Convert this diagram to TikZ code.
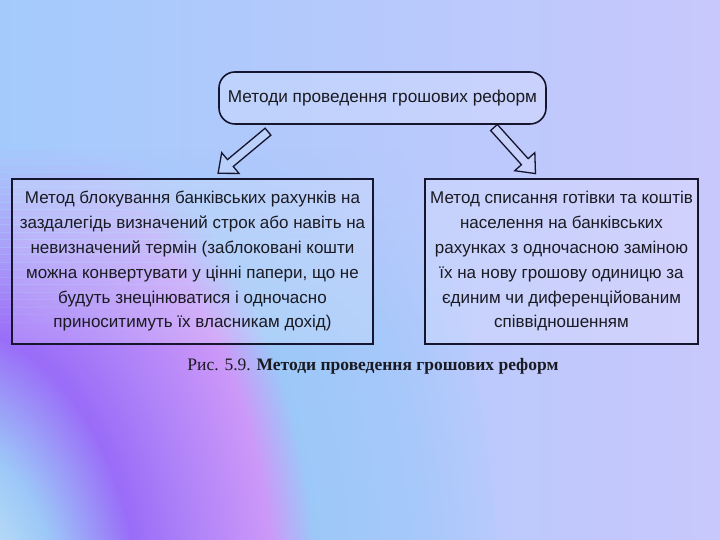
\documentclass[tikz,border=0pt]{standalone}
\usepackage{fontspec}
\setmainfont{Liberation Sans}
\newfontfamily\capfont{Liberation Serif}
\definecolor{cA}{HTML}{B4D8F6}
\definecolor{cB}{HTML}{9CC8F8}
\definecolor{cP}{HTML}{9A6CF8}
\definecolor{cL}{HTML}{AC80F8}
\definecolor{cK}{HTML}{CC98F8}
\definecolor{cBl}{HTML}{9CC8F8}
\definecolor{cBm}{HTML}{A6C8FA}
\definecolor{cBg}{HTML}{B8C9FC}
\definecolor{bgL}{HTML}{A4CAFC}
\definecolor{bgR}{HTML}{C8C8FC}
\definecolor{edge}{HTML}{15152E}
\definecolor{ink}{HTML}{1A1A22}
\pgfdeclareradialshading{ringshade}{\pgfpoint{0bp}{0bp}}{color(0bp)=(cA); color(3.6bp)=(cA); color(5.4bp)=(cB); color(8.9bp)=(cP); color(11.2bp)=(cL); color(14.9bp)=(cK); color(16.9bp)=(cBl); color(21.4bp)=(cBm); color(25bp)=(cBg); color(50bp)=(cBg)}
\tikzset{
  boxstyle/.style={draw=edge, line width=1.6pt, fill=white, fill opacity=0.18, text opacity=1, text=ink, align=center, inner sep=0pt},
  blockarrow/.style={draw=edge, line width=1.3pt, fill=white, fill opacity=0.15, line join=miter}
}
\begin{document}
\begin{tikzpicture}[x=1pt,y=1pt]
\useasboundingbox (0,0) rectangle (720,540);
% background
\shade[left color=bgL, right color=bgR] (0,0) rectangle (720,540);
\begin{scope}
  \clip (0,0) rectangle (720,540);
  \shade[shading=ringshade] (-60,-80) ellipse [x radius=560, y radius=834];
  % emulate an upward fade of the rings
  \foreach \i in {0,...,27}{
    \pgfmathsetmacro{\yy}{195+\i*7.5}
    \pgfmathsetmacro{\op}{min(1,((\i+1)/27)^1.3)}
    \shade[left color=bgL, right color=bgR, opacity=\op] (0,\yy) rectangle (720,\yy+7.9);
  }
  \shade[left color=bgL, right color=bgR] (0,404) rectangle (720,540);
\end{scope}
% nodes
\node[boxstyle, rounded corners=16pt, minimum width=327pt, minimum height=52pt,
      font=\fontsize{17.2}{21}\selectfont] (top) at (382.5,442) {Методи проведення грошових реформ};
\node[boxstyle, minimum width=361pt, minimum height=165pt,
      font=\fontsize{17}{24.8}\selectfont] (left) at (192.5,278.5)
  {Метод блокування банківських рахунків на\\заздалегідь визначений строк або навіть на\\невизначений термін (заблоковані кошти\\можна конвертувати у цінні папери, що не\\будуть знецінюватися і одночасно\\приноситимуть їх власникам дохід)};
\node[boxstyle, minimum width=273pt, minimum height=165pt,
      font=\fontsize{17}{24.8}\selectfont] (right) at (561.5,278.5)
  {Метод списання готівки та коштів\\населення на банківських\\рахунках з одночасною заміною\\їх на нову грошову одиницю за\\єдиним чи диференційованим\\співвідношенням};
\node[text=ink, font=\capfont\fontsize{17.5}{20}\selectfont, inner sep=0pt] (cap) at (373,174)
  {Рис. 5.9. \textbf{Методи проведення грошових реформ}};
% block arrows
\coordinate (lt) at (268,408.3);
\coordinate (rt) at (494,412.5);
\begin{scope}[shift={(lt)}, rotate=219.8]
  \draw[blockarrow] (0,4.5) -- (49,4.5) -- (49,13.5) -- (65,0) -- (49,-13.5) -- (49,-4.5) -- (0,-4.5) -- cycle;
\end{scope}
\begin{scope}[shift={(rt)}, rotate=-48]
  \draw[blockarrow] (0,4.5) -- (46,4.5) -- (46,13.5) -- (62,0) -- (46,-13.5) -- (46,-4.5) -- (0,-4.5) -- cycle;
\end{scope}
\end{tikzpicture}
\end{document}
